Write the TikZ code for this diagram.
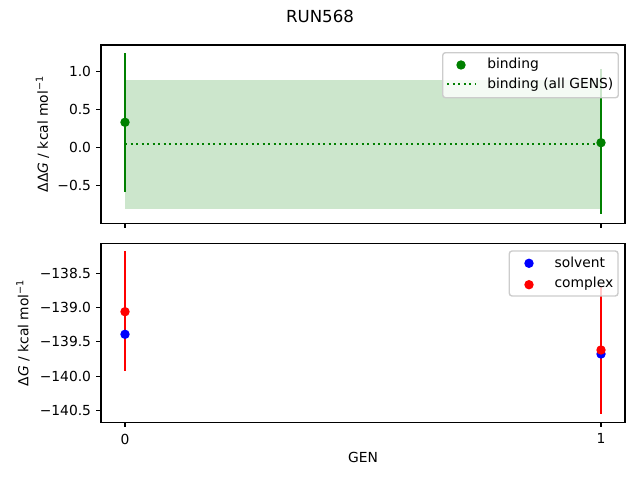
\documentclass[tikz,border=0pt]{standalone}
\usepackage{fontspec}
\setmainfont{DejaVu Sans}
\usetikzlibrary{positioning}
\definecolor{mplgreen}{HTML}{008000}
\definecolor{bandgreen}{HTML}{CCE6CC}
\definecolor{legendgray}{HTML}{CCCCCC}
\tikzset{
  axisframe/.style={draw=black, line width=0.8pt},
  tickline/.style={line width=0.8pt},
  ticklbl/.style={inner sep=0pt, font=\fontsize{10}{12}\selectfont},
  errbar/.style={line width=1.5pt},
  dot/.style={circle, fill=#1, inner sep=0pt, minimum size=6.8pt},
  legendbox/.style={draw=legendgray, line width=1pt, fill=white, fill opacity=0.8, rounded corners=2pt},
}
\begin{document}
\begin{tikzpicture}[x=0.01in, y=-0.01in]
        \useasboundingbox (0,0) rectangle (640,480);

        % Title
        \node[ticklbl, font=\fontsize{12}{14}\selectfont] (title) at (320,16.7) {RUN568};

        % Top panel: band, mean line, error bars
        \fill[bandgreen] (125,80) rectangle (601,208.7);
        \draw[mplgreen, line width=1.5pt, dash pattern=on 1.5pt off 2.475pt] (125,144) -- (601,144);

        \coordinate (b0t) at (125,53.3);
        \coordinate (b0b) at (125,191.7);
        \coordinate (b1t) at (601,69.3);
        \coordinate (b1b) at (601,214);
        \draw[errbar, mplgreen] (b0t) -- (b0b);
        \draw[errbar, mplgreen] (b1t) -- (b1b);

        \node[dot=mplgreen] (b0) at (125,122.3) {};
        \node[dot=mplgreen] (b1) at (601,142.7) {};

        \draw[axisframe] (101,45) rectangle (625,223.3);

        % Top panel ticks
        \draw[tickline] (101,71.7) -- (96.1,71.7);
        \draw[tickline] (101,109.3) -- (96.1,109.3);
        \draw[tickline] (101,147.3) -- (96.1,147.3);
        \draw[tickline] (101,185.3) -- (96.1,185.3);
        \draw[tickline] (125,223.3) -- (125,228.2);
        \draw[tickline] (601,223.3) -- (601,228.2);

        \node[ticklbl, anchor=east] (ta) at (91.3,71.7) {1.0};
        \node[ticklbl, anchor=east] (tb) at (91.3,109.3) {0.5};
        \node[ticklbl, anchor=east] (tc) at (91.3,147.3) {0.0};
        \node[ticklbl, anchor=east] (td) at (91.3,185.3) {−0.5};

        \node[ticklbl, rotate=90] (ylabtop) at (42.5,134) {ΔΔ\textit{G} / kcal mol\textsuperscript{−1}};

        % Top legend
        \draw[legendbox] (442.7,52.7) rectangle (618.3,97.7);
        \node[dot=mplgreen] (lgb) at (461,65) {};
        \coordinate (lga) at (447.3,84);
        \coordinate (lgc) at (475.5,84);
        \draw[mplgreen, line width=1.5pt, dash pattern=on 1.5pt off 2.475pt] (lga) -- (lgc);
        \node[ticklbl, anchor=base west] (lbind) at (487,69) {binding};
        \node[ticklbl, anchor=base west] (lall) at (487,88.3) {binding (all GENS)};

        % Bottom panel: error bars and points
        \coordinate (c0t) at (125,251);
        \coordinate (c0b) at (125,370.7);
        \coordinate (c1t) at (601,286.7);
        \coordinate (c1b) at (601,414);
        \draw[errbar, red] (c0t) -- (c0b);
        \draw[errbar, red] (c1t) -- (c1b);

        \node[dot=blue] (s0) at (125,334.3) {};
        \node[dot=blue] (s1) at (601,354) {};
        \node[dot=red] (c0) at (125,311.7) {};
        \node[dot=red] (c1) at (601,350) {};

        \draw[axisframe] (101,243.3) rectangle (625,422.3);

        % Bottom panel ticks
        \draw[tickline] (101,273.3) -- (96.1,273.3);
        \draw[tickline] (101,307.7) -- (96.1,307.7);
        \draw[tickline] (101,341.7) -- (96.1,341.7);
        \draw[tickline] (101,376.3) -- (96.1,376.3);
        \draw[tickline] (101,410.7) -- (96.1,410.7);
        \draw[tickline] (125,422.3) -- (125,427.2);
        \draw[tickline] (601,422.3) -- (601,427.2);

        \node[ticklbl, anchor=east] (ba) at (91.3,273.3) {−138.5};
        \node[ticklbl, anchor=east] (bb) at (91.3,307.7) {−139.0};
        \node[ticklbl, anchor=east] (bc) at (91.3,341.7) {−139.5};
        \node[ticklbl, anchor=east] (bd) at (91.3,376.3) {−140.0};
        \node[ticklbl, anchor=east] (be) at (91.3,410.7) {−140.5};

        \node[ticklbl, anchor=north] (x0) at (125,433.5) {0};
        \node[ticklbl, anchor=north] (x1) at (601,433.5) {1};

        \node[ticklbl, rotate=90] (ylabbot) at (23,332.7) {Δ\textit{G} / kcal mol\textsuperscript{−1}};
        \node[ticklbl] (xlab) at (363,457.5) {GEN};

        % Bottom legend
        \draw[legendbox] (509.3,251) rectangle (618,296);
        \node[dot=blue] (lgs) at (529,263.3) {};
        \node[dot=red] (lgx) at (529,284.7) {};
        \node[ticklbl, anchor=base west] (lsolv) at (554.3,267.3) {solvent};
        \node[ticklbl, anchor=base west] (lcomp) at (554.3,288) {complex};
    \end{tikzpicture}
\end{document}
